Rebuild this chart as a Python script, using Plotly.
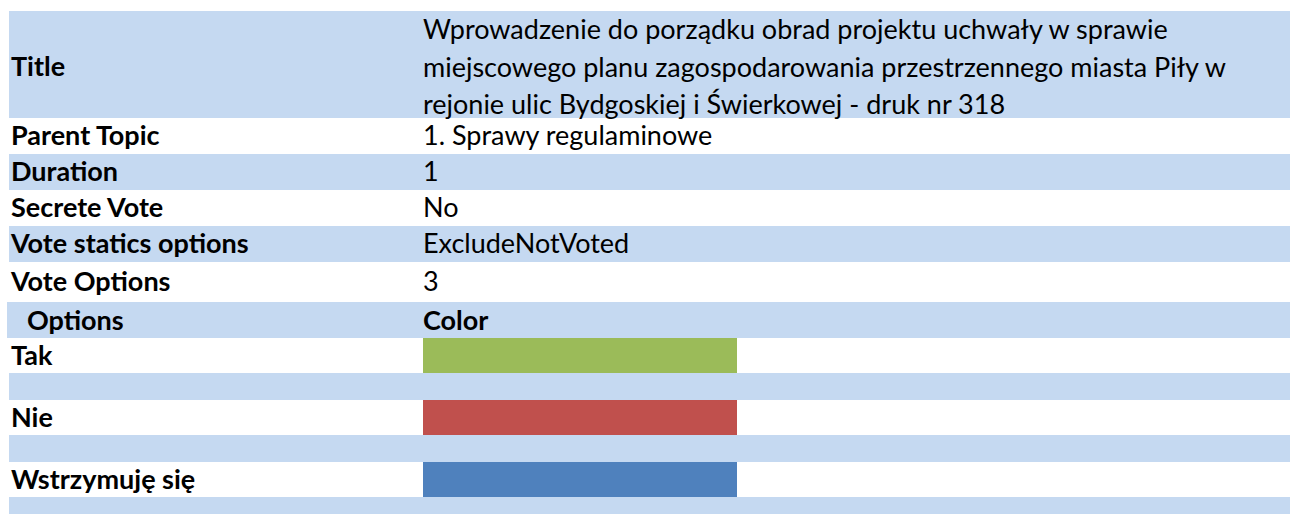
import plotly.graph_objects as go

# ---------------- data ----------------
field_labels = ["Title", "Parent Topic", "Duration", "Secrete Vote",
                "Vote statics options", "Vote Options"]
title_lines = ["Wprowadzenie do porządku obrad projektu uchwały w sprawie",
               "miejscowego planu zagospodarowania przestrzennego miasta Piły w",
               "rejonie ulic Bydgoskiej i Świerkowej - druk nr 318"]
field_values = [title_lines, ["1. Sprawy regulaminowe"], ["1"], ["No"],
                ["ExcludeNotVoted"], ["3"]]
option_header = ["Options", "Color"]
option_names = ["Tak", "Nie", "Wstrzymuję się"]
option_colors = ["#9BBB59", "#C0504D", "#4F81BD"]

# ---------------- layout geometry (pixels) ----------------
W, H = 1290, 514
BAND = "#C5D9F1"
FONT = "Lato, Carlito, Calibri, sans-serif"
FS = 27
top = 11
field_heights = [107, 36, 36, 36, 36, 40]
header_h = 36
option_h = 35
spacer_h = 27
line_gap = 37.5
text_dy = 2
left = 9
header_left = 7
label_x = 11
header_label_x = 27
value_x = 423
swatch_x0, swatch_x1 = 423, 737

band_y, band_h, band_base, band_len = [], [], [], []
label_t, label_xs, label_ys = [], [], []
val_t, val_xs, val_ys = [], [], []
sw_y, sw_h, sw_c = [], [], []

y = top
for i, (lab, vals, h) in enumerate(zip(field_labels, field_values, field_heights)):
    c = y + h / 2
    if i % 2 == 0:
        band_y.append(c); band_h.append(h); band_base.append(left); band_len.append(W - left)
    off = (2.5 if i == 0 else 0.5) + text_dy
    label_t.append(lab); label_xs.append(label_x); label_ys.append(c + off)
    n = len(vals)
    for k, v in enumerate(vals):
        val_t.append(v); val_xs.append(value_x)
        val_ys.append(c + off + 1 + (k - (n - 1) / 2) * line_gap if n > 1 else c + off)
    y += h

# header row
c = y + header_h / 2
band_y.append(c); band_h.append(header_h); band_base.append(header_left); band_len.append(W - header_left)
label_t.append(option_header[0]); label_xs.append(header_label_x); label_ys.append(c + 1 + text_dy)
label_t.append(option_header[1]); label_xs.append(value_x); label_ys.append(c + 1 + text_dy)
y += header_h

for name, col in zip(option_names, option_colors):
    c = y + option_h / 2
    sw_y.append(c); sw_h.append(option_h); sw_c.append(col)
    label_t.append(name); label_xs.append(label_x); label_ys.append(c + 1 + text_dy)
    y += option_h
    c = y + spacer_h / 2
    band_y.append(c); band_h.append(spacer_h); band_base.append(left); band_len.append(W - left)
    y += spacer_h

fig = go.Figure()
fig.add_trace(go.Bar(orientation="h", y=band_y, x=band_len, base=band_base,
                     width=band_h, marker=dict(color=BAND, line=dict(width=0)),
                     hoverinfo="skip", showlegend=False))
fig.add_trace(go.Bar(orientation="h", y=sw_y, x=[swatch_x1 - swatch_x0] * len(sw_y),
                     base=[swatch_x0] * len(sw_y), width=sw_h,
                     marker=dict(color=sw_c, line=dict(width=0)),
                     hoverinfo="skip", showlegend=False))
fig.add_trace(go.Scatter(x=label_xs, y=label_ys, mode="text",
                         text=["<b>%s</b>" % t for t in label_t],
                         textposition="middle right",
                         textfont=dict(family=FONT, size=FS, color="#000000"),
                         hoverinfo="skip", showlegend=False))
fig.add_trace(go.Scatter(x=val_xs, y=val_ys, mode="text", text=val_t,
                         textposition="middle right",
                         textfont=dict(family=FONT, size=FS, color="#000000"),
                         hoverinfo="skip", showlegend=False))

fig.update_layout(
    width=W, height=H, margin=dict(l=0, r=0, t=0, b=0),
    paper_bgcolor="white", plot_bgcolor="white", barmode="overlay", bargap=0,
    xaxis=dict(range=[0, W], visible=False, fixedrange=True),
    yaxis=dict(range=[H, 0], visible=False, fixedrange=True),
)
fig.write_html("out.html", config={"displayModeBar": False},
               post_script="document.body.style.margin='0';document.body.style.overflow='hidden';")
